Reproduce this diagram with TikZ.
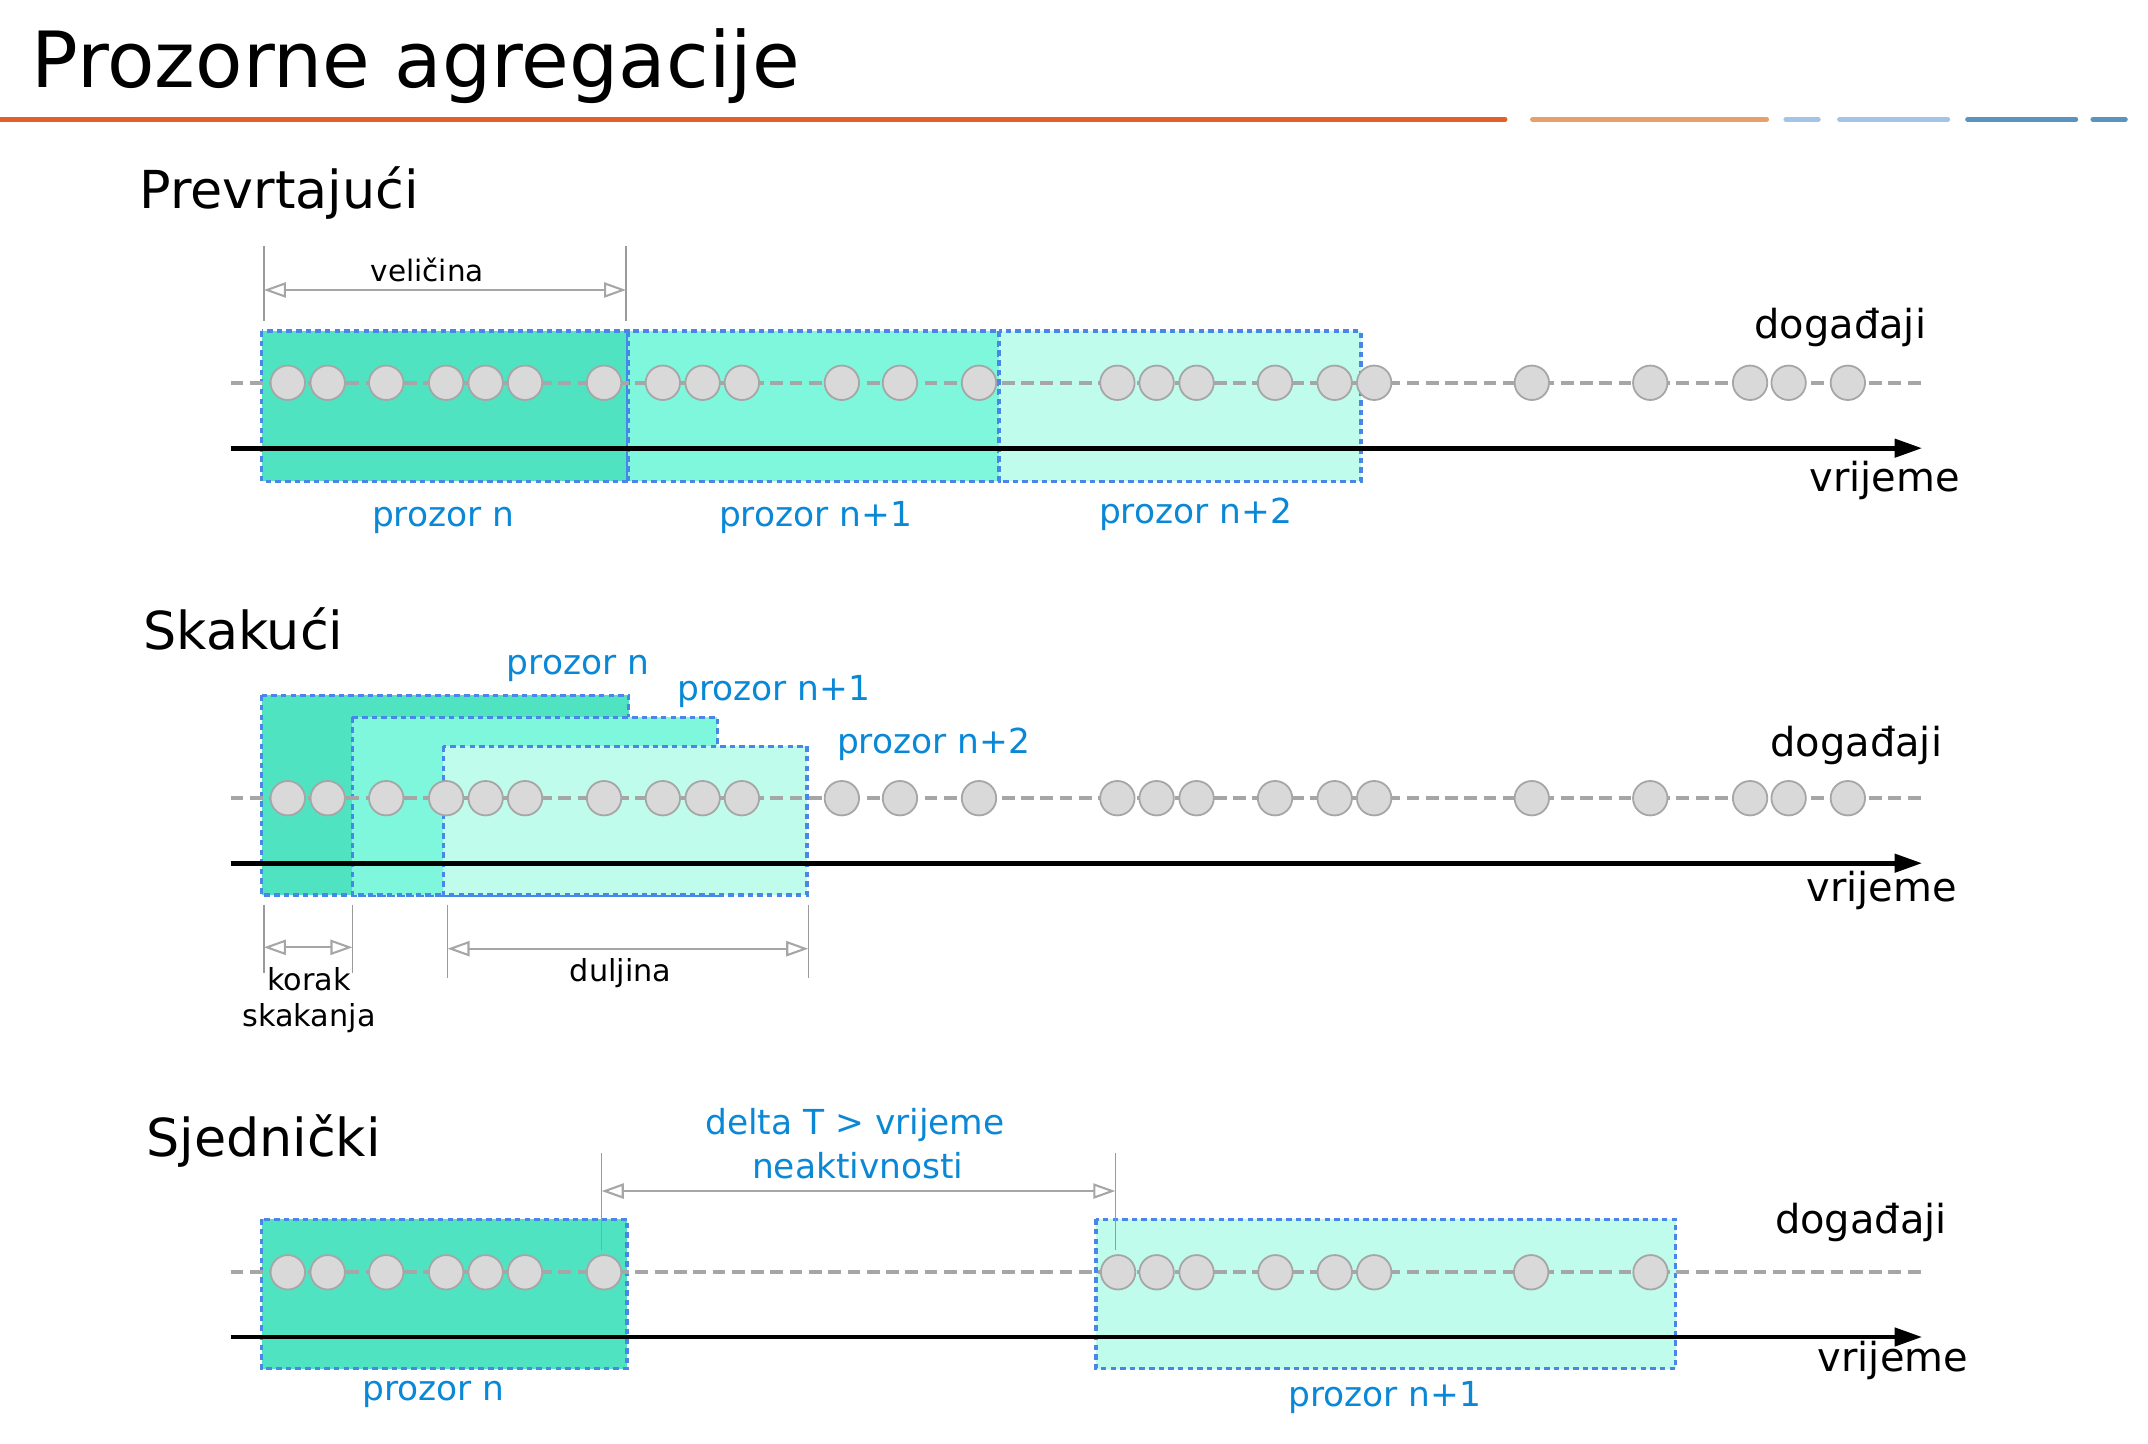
\documentclass[tikz,border=0pt]{standalone}
\usepackage{fontspec}
\setmainfont{DejaVu Sans}
\usetikzlibrary{arrows.meta}
\definecolor{tealA}{HTML}{50E3C2}
\definecolor{tealB}{HTML}{7FF7DC}
\definecolor{tealC}{HTML}{C0FCEB}
\definecolor{winborder}{HTML}{4A86E8}
\definecolor{lbl}{HTML}{0A88D6}
\definecolor{dotfill}{HTML}{D9D9D9}
\definecolor{dotline}{HTML}{A6A6A6}
\definecolor{tickgray}{HTML}{9A9A9A}
\definecolor{orA}{HTML}{E0622A}
\definecolor{orB}{HTML}{E8A06A}
\definecolor{blA}{HTML}{A3C4E6}
\definecolor{blB}{HTML}{5B93BF}
\newcommand\fsz[1]{\fontsize{#1}{#1}\selectfont}
\tikzset{
  win/.style={draw=winborder, line width=2.5, dash pattern=on 4 off 3},
  evline/.style={draw=dotline, line width=3, dash pattern=on 9.3 off 4.7},
  ev/.style={circle, draw=dotline, fill=dotfill, line width=1.3, minimum size=25, inner sep=0},
  timeax/.style={line width=3.4, -{Triangle[length=20,width=13]}},
  dimarrow/.style={draw=dotline, line width=1.5, {Triangle[open,length=16,width=11]}-{Triangle[open,length=16,width=11]}},
  dimtick/.style={draw=tickgray, line width=1},
  txt/.style={inner sep=0, anchor=base west},
  sectitle/.style={txt, font=\fsz{38}},
  axlbl/.style={txt, font=\fsz{29}},
  wlbl/.style={txt, font=\fsz{25}, text=lbl},
  dimlbl/.style={txt, font=\fsz{22}},
  hdr/.style={line width=3.6, line cap=round}
}
\begin{document}
\begin{tikzpicture}[x=1pt, y=-1pt]
\useasboundingbox (0,0) rectangle (1560,1048);

% title and header rule
\node[txt, font=\fsz{56.3}] (title) at (23,63.8) {Prozorne agregacije};
\draw[hdr, orA] (0,86.7) -- (1093,86.7);
\draw[hdr, orB] (1113,86.7) -- (1283,86.7);
\draw[hdr, blA] (1297,86.7) -- (1320.5,86.7);
\draw[hdr, blA] (1336,86.7) -- (1414.5,86.7);
\draw[hdr, blB] (1429,86.7) -- (1507.5,86.7);
\draw[hdr, blB] (1520,86.7) -- (1543.5,86.7);

%================ Section 1: Prevrtajući =================
\node[sectitle] (t1) at (101,151.7) {Prevrtajući};
\draw[win, fill=tealA] (190,240.5) rectangle (456,349.5);
\draw[win, fill=tealB] (456,240.5) rectangle (725.5,349.5);
\draw[win, fill=tealC] (725.5,240.5) rectangle (988.5,349.5);
\coordinate (l1s) at (167.5,278);
\coordinate (l1e) at (1395.5,278);
\draw[evline] (l1s) -- (l1e);
\foreach \x [count=\i] in {209,238,280.5,324,352.7,381.3,438.7,481.4,510.3,538.8,611.4,653.6,711,811.5,840,869,926,969.3,998,1112.5,1198.5,1271,1299,1342}
  \node[ev] (a\i) at (\x,278) {};
\coordinate (x1s) at (167.5,325.5);
\coordinate (x1e) at (1396,325.5);
\draw[timeax] (x1s) -- (x1e);
% size dimension
\coordinate (s1a) at (191.6,178.6);
\coordinate (s1b) at (191.6,232.8);
\coordinate (s1c) at (454.7,178.6);
\coordinate (s1d) at (454.7,232.8);
\draw[dimtick] (s1a) -- (s1b);
\draw[dimtick] (s1c) -- (s1d);
\coordinate (d1a) at (191.6,210.6);
\coordinate (d1b) at (454.7,210.6);
\draw[dimarrow] (d1a) -- (d1b);
\node[dimlbl, font=\fsz{21.4}] (vel) at (269,204.6) {veličina};
\node[axlbl] (ev1) at (1274,245.6) {događaji};
\node[axlbl] (vr1) at (1314,357) {vrijeme};
\node[wlbl] (p1a) at (270,382.6) {prozor n};
\node[wlbl] (p1b) at (522,382.6) {prozor n+1};
\node[wlbl] (p1c) at (798,380) {prozor n+2};

%================ Section 2: Skakući =================
\node[sectitle] (t2) at (104,472) {Skakući};
\draw[win, fill=tealA] (190,505) rectangle (456.5,650);
\draw[win, fill=tealB] (256,521) rectangle (521,650);
\draw[win, fill=tealC] (322,542) rectangle (586,650);
\coordinate (l2s) at (167.5,579.7);
\coordinate (l2e) at (1395.5,579.7);
\draw[evline] (l2s) -- (l2e);
\foreach \x [count=\i] in {209,238,280.5,324,352.7,381.3,438.7,481.4,510.3,538.8,611.4,653.6,711,811.5,840,869,926,969.3,998,1112.5,1198.5,1271,1299,1342}
  \node[ev] (b\i) at (\x,579.7) {};
\coordinate (x2s) at (167.5,626.9);
\coordinate (x2e) at (1396,626.9);
\draw[timeax] (x2s) -- (x2e);
\node[wlbl] (p2a) at (368,490) {prozor n};
\node[wlbl] (p2b) at (491.6,509) {prozor n+1};
\node[wlbl] (p2c) at (607.7,547) {prozor n+2};
\node[axlbl] (ev2) at (1285.6,549.6) {događaji};
\node[axlbl] (vr2) at (1311.7,655) {vrijeme};
% hop dimension
\coordinate (k1a) at (191.6,657);
\coordinate (k1b) at (191.6,707);
\coordinate (k2a) at (256,657);
\coordinate (k2b) at (256,707);
\draw[dimtick] (k1a) -- (k1b);
\draw[dimtick] (k2a) -- (k2b);
\coordinate (ka) at (191.6,688);
\coordinate (kb) at (256,688);
\draw[dimarrow] (ka) -- (kb);
\node[dimlbl] (kor) at (194,719) {korak};
\node[dimlbl] (ska) at (176,745.6) {skakanja};
% length dimension
\coordinate (u1a) at (325,657);
\coordinate (u1b) at (325,710);
\coordinate (u2a) at (587,657);
\coordinate (u2b) at (587,710);
\draw[dimtick] (u1a) -- (u1b);
\draw[dimtick] (u2a) -- (u2b);
\coordinate (ua) at (325,689);
\coordinate (ub) at (587,689);
\draw[dimarrow] (ua) -- (ub);
\node[dimlbl] (dul) at (413.7,713) {duljina};

%================ Section 3: Sjednički =================
\node[sectitle] (t3) at (106,840) {Sjednički};
\draw[win, fill=tealA] (190,885.5) rectangle (455.5,994);
\draw[win, fill=tealC] (796,885.5) rectangle (1217,994);
\coordinate (l3s) at (167.5,924);
\coordinate (l3e) at (1395.5,924);
\draw[evline] (l3s) -- (l3e);
\foreach \x [count=\i] in {209,238,280.5,324,352.7,381.3,438.7,812,840,869,926.3,969.4,998,1112,1198.7}
  \node[ev] (c\i) at (\x,924) {};
\coordinate (x3s) at (167.5,971);
\coordinate (x3e) at (1396,971);
\draw[timeax] (x3s) -- (x3e);
% gap dimension
\coordinate (g1a) at (437,837.5);
\coordinate (g1b) at (437,908);
\coordinate (g2a) at (810,837.5);
\coordinate (g2b) at (810,908);
\draw[dimtick] (g1a) -- (g1b);
\draw[dimtick] (g2a) -- (g2b);
\coordinate (ga) at (437,865);
\coordinate (gb) at (810,865);
\draw[dimarrow] (ga) -- (gb);
\node[wlbl] (dt1) at (512,823.6) {delta T > vrijeme};
\node[wlbl] (dt2) at (546,856) {neaktivnosti};
\node[axlbl] (ev3) at (1289,895.5) {događaji};
\node[axlbl] (vr3) at (1320,996) {vrijeme};
\node[wlbl] (p3a) at (263,1017) {prozor n};
\node[wlbl] (p3b) at (935.5,1021.6) {prozor n+1};
\end{tikzpicture}
\end{document}
